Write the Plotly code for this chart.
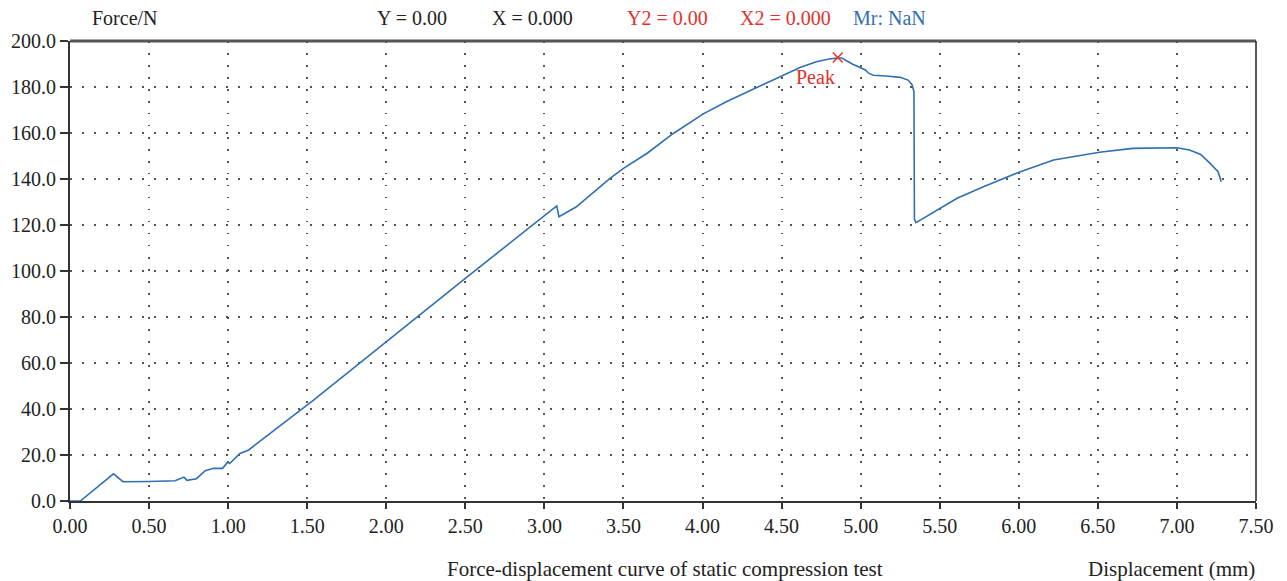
import plotly.graph_objects as go

# ---- data ----
displacement = [0.00, 0.065, 0.275, 0.335, 0.50, 0.665, 0.72, 0.74, 0.80, 0.855, 0.91, 0.965,
                0.997, 1.01, 1.075, 1.13, 1.54, 2.00, 2.50, 3.078, 3.092, 3.20, 3.415, 3.50,
                3.65, 3.815, 4.005, 4.15, 4.32, 4.50, 4.57, 4.62, 4.72, 4.80, 4.855, 4.88,
                4.95, 5.03, 5.05, 5.08, 5.16, 5.25, 5.30, 5.325, 5.337, 5.338, 5.34, 5.35,
                5.50, 5.61, 5.78, 6.01, 6.22, 6.51, 6.72, 7.00, 7.08, 7.15, 7.21, 7.26, 7.28]
force = [0.0, 0.0, 11.8, 8.4, 8.5, 8.8, 10.4, 9.0, 9.7, 13.2, 14.2, 14.2,
         16.9, 16.3, 20.7, 22.2, 43.9, 69.3, 96.8, 128.3, 123.6, 127.8, 140.3, 144.6,
         151.2, 159.8, 168.3, 173.6, 179.0, 184.5, 186.7, 188.6, 191.0, 192.2, 192.6, 192.6,
         189.9, 187.4, 186.0, 185.1, 184.8, 184.2, 183.0, 181.0, 178.0, 125.1, 122.5, 121.0,
         127.0, 131.6, 136.7, 143.2, 148.3, 151.6, 153.3, 153.6, 152.6, 150.7, 146.8, 143.2, 138.8]

peak_x = [4.855]
peak_y = [192.8]
peak_label = "Peak"

x_ticks = [0.0, 0.5, 1.0, 1.5, 2.0, 2.5, 3.0, 3.5, 4.0, 4.5, 5.0, 5.5, 6.0, 6.5, 7.0, 7.5]
y_ticks = [0, 20, 40, 60, 80, 100, 120, 140, 160, 180, 200]

BLUE = "#2f6fb3"
RED = "#e5302a"
FONT = "Liberation Serif"
FS = 20

fig = go.Figure()
fig.add_trace(go.Scatter(x=displacement, y=force, mode="lines",
                         line=dict(color=BLUE, width=1.6), hoverinfo="skip", cliponaxis=False))
fig.add_trace(go.Scatter(x=peak_x, y=peak_y, mode="markers",
                         marker=dict(symbol="x-thin", size=10, line=dict(color=RED, width=1.5)),
                         hoverinfo="skip", cliponaxis=False))

fig.update_layout(
    width=1287, height=581,
    margin=dict(l=70, r=31, t=41, b=80),
    plot_bgcolor="white", paper_bgcolor="white",
    showlegend=False,
    font=dict(family=FONT, size=FS, color="#222"),
    xaxis=dict(range=[0, 7.5], tickvals=x_ticks, tickformat=".2f",
               showgrid=True, gridcolor="#555", gridwidth=1.5, griddash="1.5px,10.5px",
               zeroline=False, showline=True, linecolor="#333", linewidth=2,
               ticks="outside", ticklen=6, tickwidth=1.5, tickcolor="#333",
               tickfont=dict(family=FONT, size=FS, color="#222")),
    yaxis=dict(range=[0, 200], tickvals=y_ticks, tickformat=".1f",
               showgrid=True, gridcolor="#555", gridwidth=1.5, griddash="1.5px,10.5px",
               zeroline=False, showline=True, linecolor="#333", linewidth=2,
               ticks="outside", ticklen=8, tickwidth=1.5, tickcolor="#333",
               tickfont=dict(family=FONT, size=FS, color="#222")),
    shapes=[
        dict(type="line", xref="paper", yref="paper", x0=0, x1=1, y0=1, y1=1,
             line=dict(color="#555", width=3)),
        dict(type="line", xref="paper", yref="paper", x0=1, x1=1, y0=0, y1=1,
             line=dict(color="#222", width=1.5)),
    ],
)

def txt(x, y, s, color="#222", xanchor="left", size=FS):
    fig.add_annotation(x=x, y=y, xref="paper", yref="paper", text=s, showarrow=False,
                       xanchor=xanchor, yanchor="middle",
                       font=dict(family=FONT, size=size, color=color))

# header texts (paper coords relative to plot area 70..1256, 41..501)
def px(xp):
    return (xp - 70) / (1256 - 70)

def py(yp):
    return (501 - yp) / (501 - 41)

txt(px(90), py(18), "Force/N")
txt(px(375), py(18), "Y = 0.00")
txt(px(490), py(18), "X = 0.000")
txt(px(625), py(18), "Y2 = 0.00", RED)
txt(px(738), py(18), "X2 = 0.000", RED)
txt(px(851), py(18), "Mr: NaN", BLUE)
txt(px(665), py(569), "Force-displacement curve of static compression test", xanchor="center", size=21)
txt(px(1257), py(569), "Displacement (mm)", xanchor="right", size=21)

fig.add_annotation(x=peak_x[0] - 0.14, y=peak_y[0] - 8.5, text=peak_label, showarrow=False,
                   xanchor="center", yanchor="middle",
                   font=dict(family=FONT, size=FS, color=RED))

fig.write_html("out.html", config={"displayModeBar": False},
               post_script="document.body.style.margin='0';document.body.style.overflow='hidden';")
